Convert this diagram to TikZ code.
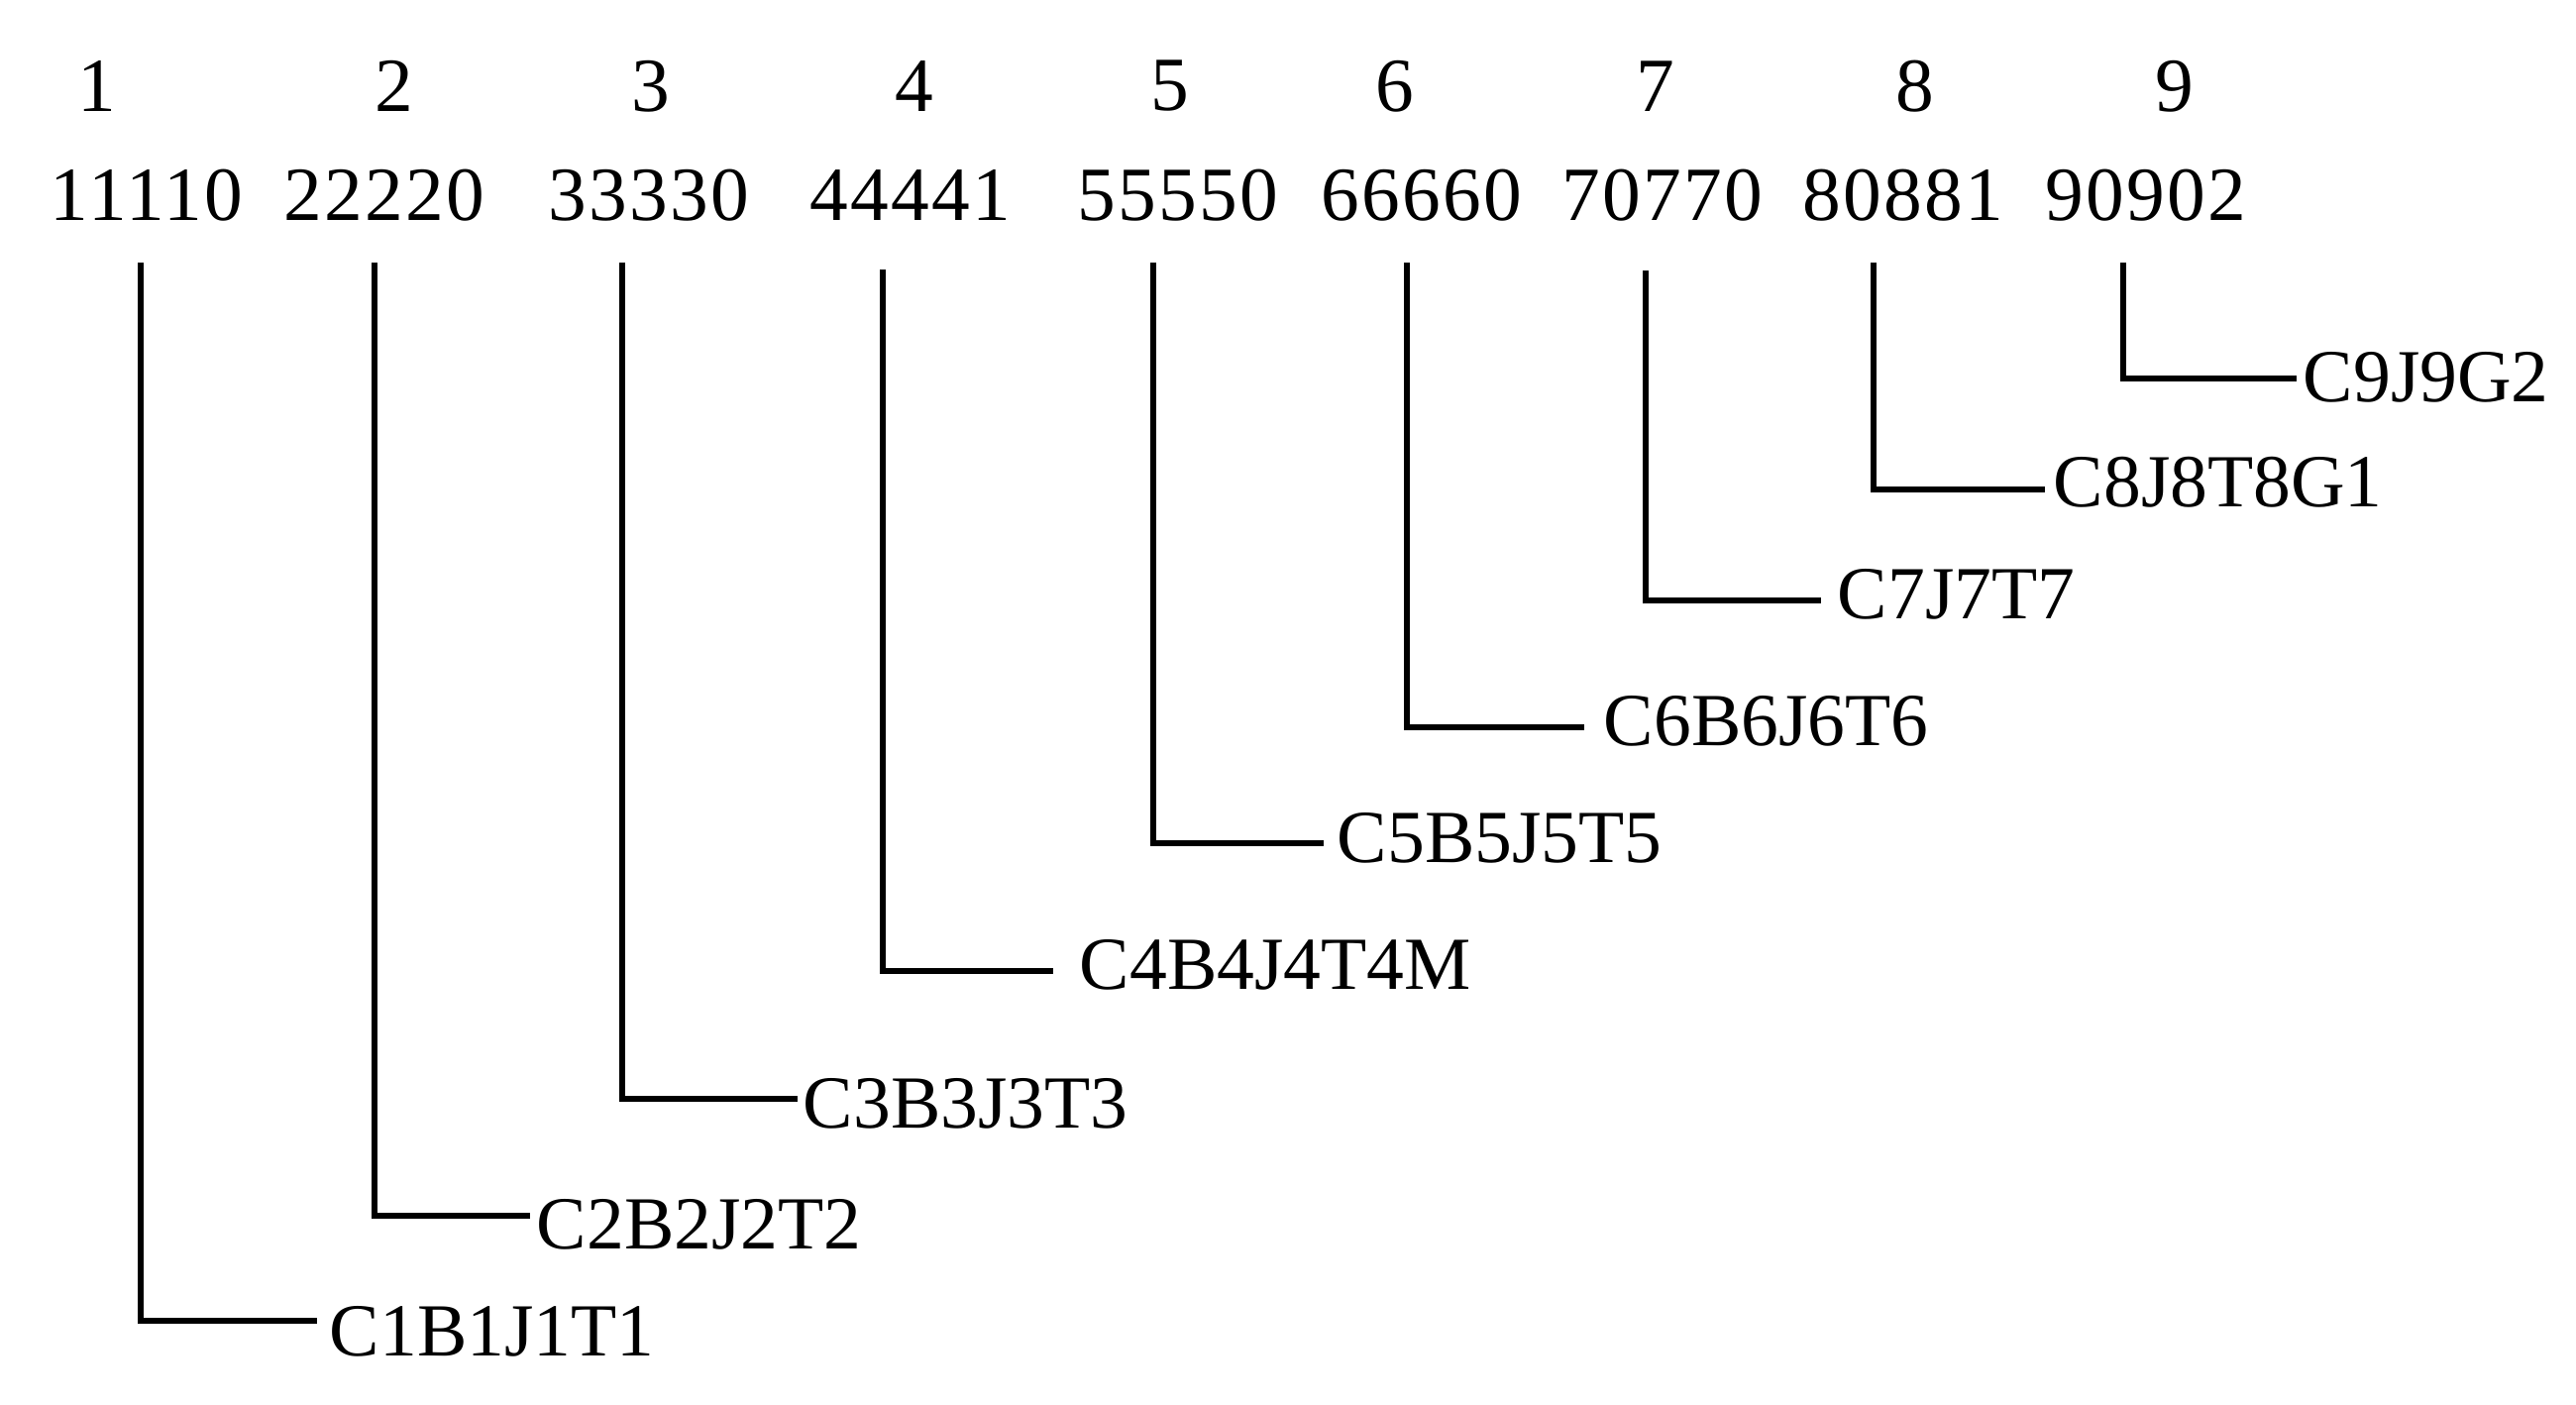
\documentclass[tikz,border=0pt]{standalone}
\usepackage{fontspec}
\setmainfont{Liberation Serif}

\begin{document}
\begin{tikzpicture}[x=0.01cm, y=-0.01cm, line width=1.6pt,
    every node/.style={font=\fontsize{22}{26}\selectfont},
    num/.style={inner sep=0pt},
    code/.style={inner sep=0pt, font=\fontsize{22}{26}\selectfont\addfontfeature{LetterSpace=3}},
    leaf/.style={anchor=base west, inner sep=0pt, font=\fontsize{21.5}{26}\selectfont}]
    \useasboundingbox (0,0) rectangle (2600,1417);
    % top row
    \node[num] (n1) at (98,87) {1};
    \node[num] (n2) at (398,87) {2};
    \node[num] (n3) at (657,87) {3};
    \node[num] (n4) at (923,87) {4};
    \node[num] (n5) at (1181,87) {5};
    \node[num] (n6) at (1408,87) {6};
    \node[num] (n7) at (1671,87) {7};
    \node[num] (n8) at (1933,87) {8};
    \node[num] (n9) at (2195,87) {9};
    % codes
    \node[code] (c1) at (148,197) {11110};
    \node[code] (c2) at (388,197) {22220};
    \node[code] (c3) at (655,197) {33330};
    \node[code] (c4) at (919,197) {44441};
    \node[code] (c5) at (1189,197) {55550};
    \node[code] (c6) at (1435,197) {66660};
    \node[code] (c7) at (1678,197) {70770};
    \node[code] (c8) at (1921,197) {80881};
    \node[code] (c9) at (2166,197) {90902};
    % leaves
    \node[leaf] (l1) at (330,1368) {C1B1J1T1};
    \node[leaf] (l2) at (539,1260) {C2B2J2T2};
    \node[leaf] (l3) at (808,1138) {C3B3J3T3};
    \node[leaf] (l4) at (1087,998) {C4B4J4T4M};
    \node[leaf] (l5) at (1347,870) {C5B5J5T5};
    \node[leaf] (l6) at (1616,752) {C6B6J6T6};
    \node[leaf] (l7) at (1852,624) {C7J7T7};
    \node[leaf] (l8) at (2070,511) {C8J8T8G1};
    \node[leaf] (l9) at (2322,405) {C9J9G2};
    % branches
    \coordinate (t1) at (142,265);
    \coordinate (t2) at (378,265);
    \coordinate (t3) at (628,265);
    \coordinate (t4) at (891,272);
    \coordinate (t5) at (1164,265);
    \coordinate (t6) at (1420,265);
    \coordinate (t7) at (1661,273);
    \coordinate (t8) at (1891,265);
    \coordinate (t9) at (2143,265);
    \coordinate (e1) at (320,1333);
    \coordinate (e2) at (535,1227);
    \coordinate (e3) at (805,1109);
    \coordinate (e4) at (1063,980);
    \coordinate (e5) at (1336,851);
    \coordinate (e6) at (1599,734);
    \coordinate (e7) at (1838,606);
    \coordinate (e8) at (2064,494);
    \coordinate (e9) at (2318,382);
    \draw (t1) |- (e1);
    \draw (t2) |- (e2);
    \draw (t3) |- (e3);
    \draw (t4) |- (e4);
    \draw (t5) |- (e5);
    \draw (t6) |- (e6);
    \draw (t7) |- (e7);
    \draw (t8) |- (e8);
    \draw (t9) |- (e9);
\end{tikzpicture}
\end{document}
